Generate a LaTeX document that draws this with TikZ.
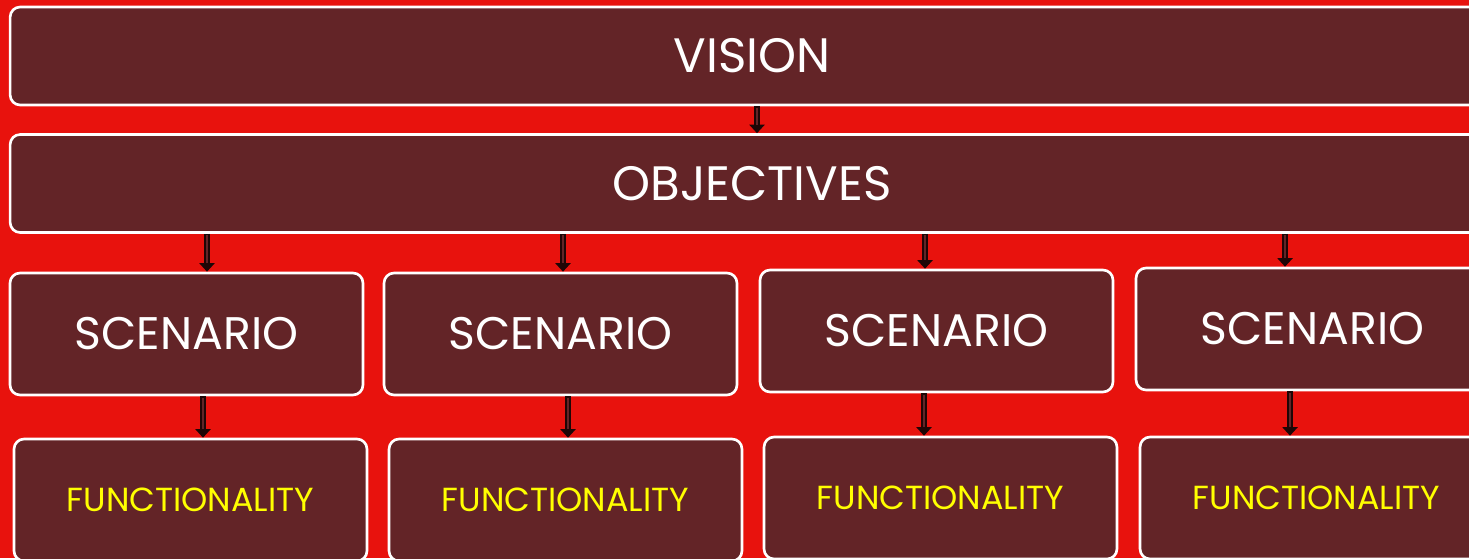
\documentclass[tikz,border=0pt]{standalone}
\usepackage{fontspec}
\setmainfont{Poppins}
\usetikzlibrary{arrows.meta}
\definecolor{bgred}{RGB}{232, 18, 13}
\definecolor{boxbrown}{RGB}{99, 36, 39}
\definecolor{funcyellow}{RGB}{255, 255, 0}
\definecolor{arrowdark}{RGB}{30, 6, 6}
\tikzset{
  levelbox/.style={draw=white, line width=1.5pt, fill=boxbrown, rounded corners=0.2cm, text=white, font=\fontsize{26}{30}\selectfont},
  widebox/.style={levelbox, minimum width=29.68cm, minimum height=1.96cm, font=\fontsize{27.5}{32}\selectfont},
  scenbox/.style={levelbox, minimum width=7.06cm, minimum height=2.44cm},
  funcbox/.style={levelbox, minimum width=7.06cm, minimum height=2.44cm, text=funcyellow, font=\fontsize{19}{23}\selectfont},
  arrowout/.style={arrowdark, line width=0.13cm, -{Triangle[width=0.3cm, length=0.17cm]}},
  arrowin/.style={boxbrown, line width=0.05cm, shorten <=0.03cm, shorten >=0.17cm}
}

\begin{document}
\begin{tikzpicture}[x=0.02cm, y=-0.02cm]
  \useasboundingbox (0,0) rectangle (1469,558);
  \clip (0,0) rectangle (1469,558);
  \fill[bgred] (0,0) rectangle (1469,558);

  % Top levels
  \node[widebox] (vision) at (752, 56) {VISION};
  \node[widebox] (objectives) at (752, 183.5) {OBJECTIVES};

  % Scenarios
  \node[scenbox] (s1) at (186.5, 334) {SCENARIO};
  \node[scenbox] (s2) at (560.5, 334) {SCENARIO};
  \node[scenbox] (s3) at (936.5, 331) {SCENARIO};
  \node[scenbox] (s4) at (1312.5, 329) {SCENARIO};

  % Functionalities
  \node[funcbox] (f1) at (190.5, 500) {FUNCTIONALITY};
  \node[funcbox] (f2) at (565.5, 500) {FUNCTIONALITY};
  \node[funcbox] (f3) at (940.5, 498) {FUNCTIONALITY};
  \node[funcbox] (f4) at (1316.5, 498) {FUNCTIONALITY};

  % Arrows
  \coordinate (v0) at ([xshift=0.1cm]objectives.north);
  \coordinate (a1) at ([xshift=0.41cm]s1.north);
  \coordinate (a2) at ([xshift=0.05cm]s2.north);
  \coordinate (a3) at ([xshift=-0.23cm]s3.north);
  \coordinate (a4) at ([xshift=-0.55cm]s4.north);
  \coordinate (b1) at ([xshift=0.25cm]f1.north);
  \coordinate (b2) at ([xshift=0.05cm]f2.north);
  \coordinate (b3) at ([xshift=-0.33cm]f3.north);
  \coordinate (b4) at ([xshift=-0.53cm]f4.north);

  \draw[arrowout] (v0 |- vision.south) -- (v0);
  \draw[arrowin] (v0 |- vision.south) -- (v0);
  \foreach \i in {1,2,3,4} {
    \draw[arrowout] (a\i |- objectives.south) -- (a\i);
    \draw[arrowin] (a\i |- objectives.south) -- (a\i);
    \draw[arrowout] (b\i |- s\i.south) -- (b\i);
    \draw[arrowin] (b\i |- s\i.south) -- (b\i);
  }
\end{tikzpicture}
\end{document}
